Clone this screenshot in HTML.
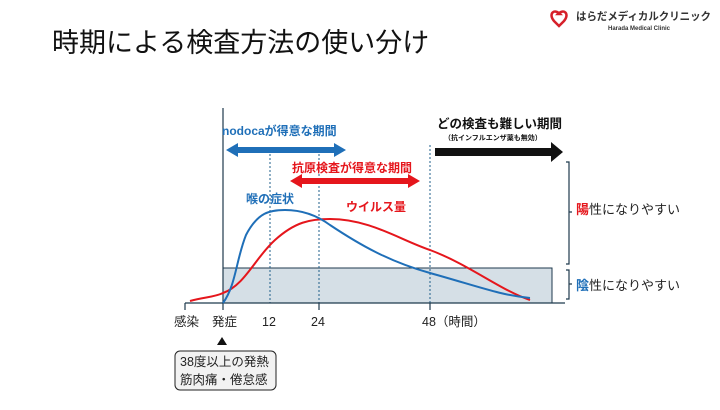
<!DOCTYPE html>
<html><head><meta charset="utf-8"><style>
body{margin:0;width:720px;height:405px;background:#fff;overflow:hidden;font-family:"Liberation Sans","Noto Sans CJK JP",sans-serif}
</style></head><body>
<svg width="720" height="405" viewBox="0 0 720 405" xmlns="http://www.w3.org/2000/svg" font-family="Liberation Sans, Noto Sans CJK JP, sans-serif">
<text x="52" y="52" font-size="27" fill="#111">時期による検査方法の使い分け</text>
<path d="M560 14c-6-6-12 0-6 7l5 5 5-5c6-7 0-13-6-7z" fill="none" stroke="#d6202a" stroke-width="2.5"/>
<text x="576" y="20" font-size="11" font-weight="bold" fill="#333" textLength="135" lengthAdjust="spacingAndGlyphs">はらだメディカルクリニック</text>
<text x="608" y="30" font-size="6" font-weight="bold" fill="#333">Harada Medical Clinic</text>
<rect x="223" y="268" width="329" height="35" fill="#d5dfe6" stroke="#1f3a4d" stroke-width="1"/>
<g stroke="#1f5f8b" stroke-width="1" stroke-dasharray="2,2">
<line x1="270" y1="150" x2="270" y2="303"/><line x1="319" y1="150" x2="319" y2="303"/><line x1="430" y1="145" x2="430" y2="303"/></g>
<g stroke="#1f3a4d" stroke-width="1.2" fill="none">
<line x1="223" y1="108" x2="223" y2="303"/>
<line x1="185" y1="303" x2="565" y2="303"/>
<line x1="185" y1="303" x2="185" y2="310"/><line x1="223" y1="303" x2="223" y2="310"/>
<line x1="319" y1="303" x2="319" y2="310"/><line x1="430" y1="303" x2="430" y2="310"/>
<path d="M566 162h3v50h3h-3v52h-3M566 270h3v14h3h-3v15h-3"/>
</g>
<path d="M190 301C205 297 215 297 223 293C245 285 255 258 275 240C295 222 310 219 330 219C370 219 400 240 430 250C470 265 500 290 530 300" fill="none" stroke="#e5161c" stroke-width="2"/>
<path d="M223 303C236 285 236 260 246 235C258 212 270 210 285 210C300 210 315 214 330 225C360 245 390 262 430 273C480 287 500 295 530 298" fill="none" stroke="#1f6fb8" stroke-width="2"/>
<text x="222" y="135" font-size="12" font-weight="bold" fill="#1f6fb8">nodocaが得意な期間</text>
<path d="M226 150l12-7v4h96v-4l12 7l-12 7v-4h-96v4z" fill="#1f6fb8"/>
<text x="292" y="172" font-size="12" font-weight="bold" fill="#e5161c">抗原検査が得意な期間</text>
<path d="M290 181l12-7v4h106v-4l12 7l-12 7v-4h-106v4z" fill="#e5161c"/>
<text x="437" y="128" font-size="12.5" font-weight="bold" fill="#111">どの検査も難しい期間</text>
<text x="444" y="140" font-size="7" font-weight="bold" fill="#111">（抗インフルエンザ薬も無効）</text>
<path d="M435 148h116v-6l12 10l-12 10v-6h-116z" fill="#111"/>
<text x="246" y="203" font-size="12" font-weight="bold" fill="#1f6fb8">喉の症状</text>
<text x="346" y="211" font-size="12" font-weight="bold" fill="#e5161c">ウイルス量</text>
<text x="576" y="214" font-size="13" fill="#222"><tspan fill="#e5161c" font-weight="bold">陽</tspan>性になりやすい</text>
<text x="576" y="290" font-size="13" fill="#222"><tspan fill="#1f6fb8" font-weight="bold">陰</tspan>性になりやすい</text>
<g font-size="12.5" fill="#222">
<text x="174" y="326">感染</text><text x="212" y="326">発症</text>
<text x="262" y="326">12</text><text x="311" y="326">24</text><text x="422" y="326">48（時間）</text></g>
<path d="M222 337l5 8h-10z" fill="#111"/>
<rect x="175" y="351" width="101" height="39" rx="5" fill="#f2f2f2" stroke="#222"/>
<text x="180" y="366" font-size="12.5" fill="#222">38度以上の発熱</text>
<text x="180" y="384" font-size="12.5" fill="#222">筋肉痛・倦怠感</text>
</svg>
</body></html>
